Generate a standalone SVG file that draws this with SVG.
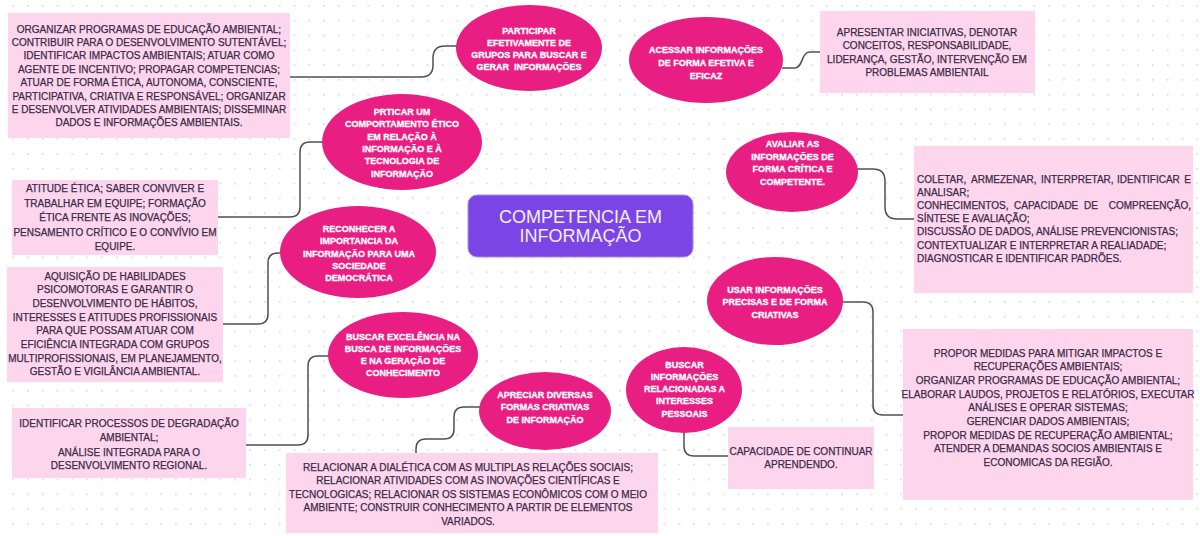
<svg xmlns="http://www.w3.org/2000/svg" width="1200" height="536" viewBox="0 0 1200 536">
<defs>
<pattern id="dots" x="12.3" y="5" width="14.8" height="14.8" patternUnits="userSpaceOnUse">
<circle cx="0.7" cy="0.7" r="1.1" fill="#d9d9d9"/>
</pattern>
<style>
.box{fill:#fdd6ee}
.ell{fill:#e91e83}
.bt{font-family:"Liberation Sans",Arial,sans-serif;font-size:10px;fill:#3b2b48;stroke:#3b2b48;stroke-width:0.25;text-anchor:middle}
.bl{font-family:"Liberation Sans",Arial,sans-serif;font-size:10px;fill:#3b2b48;stroke:#3b2b48;stroke-width:0.25}
.et{font-family:"Liberation Sans",Arial,sans-serif;font-size:9px;font-weight:bold;fill:#ffffff;stroke:#ffffff;stroke-width:0.3;text-anchor:middle;white-space:pre}
.con{fill:none;stroke:#505050;stroke-width:1.5}
.ct{font-family:"Liberation Sans",Arial,sans-serif;font-size:18px;fill:#f3eeff;text-anchor:middle}
</style>
</defs>
<rect width="1200" height="536" fill="#ffffff"/>
<rect width="1200" height="536" fill="url(#dots)"/>

<g id="connectors">
<path class="con" d="M290,77 H421 Q433,77 433,65 V58 Q433,46 445,46 H457"/>
<path class="con" d="M323,142 H310 Q300,142 300,152 V207 Q300,217 290,217 H218"/>
<path class="con" d="M281,253 H278 Q268,253 268,263 V314 Q268,324 258,324 H223"/>
<path class="con" d="M782,68 H795 C803,68 801,52 810,52 H820"/>
<path class="con" d="M857,169 H873 Q885,169 885,181 V207 Q885,219 897,219 H914"/>
<path class="con" d="M842,302 H863 Q873,302 873,312 V405 Q873,415 883,415 H903"/>
<path class="con" d="M684,432 V446 Q684,456 694,456 H728"/>
<path class="con" d="M480,407 H464 Q454,407 454,417 V429 Q454,439 444,439 H426 Q416,439 416,449 V453"/>
<path class="con" d="M329,356 H318 Q308,356 308,366 V435 Q308,445 298,445 H246"/>
</g>

<g id="center">
<rect x="468" y="195" width="225" height="62" rx="9" fill="#7b45e6" stroke="#a889f2" stroke-width="1"/>
<text class="ct" x="580.5" y="223">COMPETENCIA EM</text>
<text class="ct" x="580.5" y="242">INFORMAÇÃO</text>
</g>

<g id="n-participar">
<ellipse class="ell" cx="529" cy="48" rx="73" ry="43"/>
<text class="et" x="529" y="33.5">PARTICIPAR</text>
<text class="et" x="529" y="45.5">EFETIVAMENTE DE</text>
<text class="et" x="529" y="57.5">GRUPOS PARA BUSCAR E</text>
<text class="et" x="529" y="69.5">GERAR  INFORMAÇÕES</text>
</g>

<g id="b-organizar">
<rect class="box" x="8" y="13" width="282" height="125"/>
<text class="bt" x="149" y="32.5">ORGANIZAR PROGRAMAS DE EDUCAÇÃO AMBIENTAL;</text>
<text class="bt" x="149" y="45.9">CONTRIBUIR PARA O DESENVOLVIMENTO SUTENTÁVEL;</text>
<text class="bt" x="149" y="59.3">IDENTIFICAR IMPACTOS AMBIENTAIS; ATUAR COMO</text>
<text class="bt" x="149" y="72.7">AGENTE DE INCENTIVO; PROPAGAR COMPETENCIAS;</text>
<text class="bt" x="149" y="86.1">ATUAR DE FORMA ÉTICA, AUTONOMA, CONSCIENTE,</text>
<text class="bt" x="149" y="99.5">PARTICIPATIVA, CRIATIVA E RESPONSÁVEL; ORGANIZAR</text>
<text class="bt" x="149" y="112.9">E DESENVOLVER ATIVIDADES AMBIENTAIS; DISSEMINAR</text>
<text class="bt" x="149" y="126.3">DADOS E INFORMAÇÕES AMBIENTAIS.</text>
</g>

<g id="n-prticar">
<ellipse class="ell" cx="402" cy="142" rx="80" ry="48"/>
<text class="et" x="402" y="115">PRTICAR UM</text>
<text class="et" x="402" y="127.3">COMPORTAMENTO ÉTICO</text>
<text class="et" x="402" y="139.6">EM RELAÇÃO À</text>
<text class="et" x="402" y="151.9">INFORMAÇÃO E À</text>
<text class="et" x="402" y="164.2">TECNOLOGIA DE</text>
<text class="et" x="402" y="176.5">INFORMAÇÃO</text>
</g>

<g id="b-atitude">
<rect class="box" x="12" y="180" width="206" height="75"/>
<text class="bt" x="115" y="192">ATITUDE ÉTICA; SABER CONVIVER E</text>
<text class="bt" x="115" y="206.5">TRABALHAR EM EQUIPE; FORMAÇÃO</text>
<text class="bt" x="115" y="221">ÉTICA FRENTE AS INOVAÇÕES;</text>
<text class="bt" x="115" y="235.5">PENSAMENTO CRÍTICO E O CONVÍVIO EM</text>
<text class="bt" x="115" y="250">EQUIPE.</text>
</g>

<g id="n-reconhecer">
<ellipse class="ell" cx="358" cy="252" rx="78" ry="46"/>
<text class="et" x="359" y="231.5">RECONHECER A</text>
<text class="et" x="359" y="244">IMPORTANCIA DA</text>
<text class="et" x="359" y="256.5">INFORMAÇÃO PARA UMA</text>
<text class="et" x="359" y="268.5">SOCIEDADE</text>
<text class="et" x="359" y="280.5">DEMOCRÁTICA</text>
</g>

<g id="b-aquisicao">
<rect class="box" x="7" y="267" width="216" height="115"/>
<text class="bt" x="115" y="279.5">AQUISIÇÃO DE HABILIDADES</text>
<text class="bt" x="115" y="293.2">PSICOMOTORAS E GARANTIR O</text>
<text class="bt" x="115" y="306.9">DESENVOLVIMENTO DE HÁBITOS,</text>
<text class="bt" x="115" y="320.6">INTERESSES E ATITUDES PROFISSIONAIS</text>
<text class="bt" x="115" y="334.3">PARA QUE POSSAM ATUAR COM</text>
<text class="bt" x="115" y="348">EFICIÊNCIA INTEGRADA COM GRUPOS</text>
<text class="bt" x="115" y="361.7">MULTIPROFISSIONAIS, EM PLANEJAMENTO,</text>
<text class="bt" x="115" y="375.4">GESTÃO E VIGILÂNCIA AMBIENTAL.</text>
</g>

<g id="n-acessar">
<ellipse class="ell" cx="706" cy="60" rx="77" ry="43"/>
<text class="et" x="706" y="53">ACESSAR INFORMAÇÕES</text>
<text class="et" x="706" y="66">DE FORMA EFETIVA E</text>
<text class="et" x="706" y="79">EFICAZ</text>
</g>

<g id="b-apresentar">
<rect class="box" x="820" y="11" width="215" height="82"/>
<text class="bt" x="927" y="35.5">APRESENTAR INICIATIVAS, DENOTAR</text>
<text class="bt" x="927" y="49">CONCEITOS, RESPONSABILIDADE,</text>
<text class="bt" x="927" y="62.5">LIDERANÇA, GESTÃO, INTERVENÇÃO EM</text>
<text class="bt" x="927" y="76">PROBLEMAS AMBIENTAIL</text>
</g>

<g id="n-avaliar">
<ellipse class="ell" cx="792" cy="172" rx="66" ry="40"/>
<text class="et" x="792.5" y="147">AVALIAR AS</text>
<text class="et" x="792.5" y="159.5">INFORMAÇÕES DE</text>
<text class="et" x="792.5" y="172">FORMA CRÍTICA E</text>
<text class="et" x="792.5" y="184.5">COMPETENTE.</text>
</g>

<g id="b-coletar">
<rect class="box" x="914" y="146" width="279" height="147"/>
<text class="bl" y="182.5"><tspan x="917">COLETAR,</tspan><tspan x="971">ARMEZENAR,</tspan><tspan x="1041">INTERPRETAR,</tspan><tspan x="1117">IDENTIFICAR</tspan></text>
<text class="bl" x="1191" y="182.5" text-anchor="end">E</text>
<text class="bl" x="917" y="195.7">ANALISAR;</text>
<text class="bl" y="208.9"><tspan x="917">CONHECIMENTOS,</tspan><tspan x="1014">CAPACIDADE</tspan><tspan x="1084">DE</tspan></text>
<text class="bl" x="1191" y="208.9" text-anchor="end">COMPREENÇÃO,</text>
<text class="bl" x="917" y="222.1">SÍNTESE E AVALIAÇÃO;</text>
<text class="bl" x="917" y="235.3">DISCUSSÃO DE DADOS, ANÁLISE PREVENCIONISTAS;</text>
<text class="bl" x="917" y="248.5">CONTEXTUALIZAR E INTERPRETAR A REALIADADE;</text>
<text class="bl" x="917" y="261.7">DIAGNOSTICAR E IDENTIFICAR PADRÕES.</text>
</g>

<g id="n-usar">
<ellipse class="ell" cx="775" cy="301" rx="68" ry="44"/>
<text class="et" x="775" y="292.5">USAR INFORMAÇÕES</text>
<text class="et" x="775" y="305">PRECISAS E DE FORMA</text>
<text class="et" x="775" y="317.5">CRIATIVAS</text>
</g>

<g id="b-propor">
<rect class="box" x="903" y="329" width="290" height="171"/>
<text class="bt" x="1048" y="356.5">PROPOR MEDIDAS PARA MITIGAR IMPACTOS E</text>
<text class="bt" x="1048" y="370.2">RECUPERAÇÕES AMBIENTAIS;</text>
<text class="bt" x="1048" y="383.9">ORGANIZAR PROGRAMAS DE EDUCAÇÃO AMBIENTAL;</text>
<text class="bt" x="1048" y="397.6">ELABORAR LAUDOS, PROJETOS E RELATÓRIOS, EXECUTAR</text>
<text class="bt" x="1048" y="411.3">ANÁLISES E OPERAR SISTEMAS;</text>
<text class="bt" x="1048" y="425">GERENCIAR DADOS AMBIENTAIS;</text>
<text class="bt" x="1048" y="438.7">PROPOR MEDIDAS DE RECUPERAÇÃO AMBIENTAL;</text>
<text class="bt" x="1048" y="452.4">ATENDER A DEMANDAS SOCIOS AMBIENTAIS E</text>
<text class="bt" x="1048" y="466.1">ECONOMICAS DA REGIÃO.</text>
</g>

<g id="n-buscar-info">
<ellipse class="ell" cx="684" cy="390" rx="58" ry="43"/>
<text class="et" x="684.5" y="367.5">BUSCAR</text>
<text class="et" x="684.5" y="379.7">INFORMAÇÕES</text>
<text class="et" x="684.5" y="392">RELACIONADAS A</text>
<text class="et" x="684.5" y="404.2">INTERESSES</text>
<text class="et" x="684.5" y="416.5">PESSOAIS</text>
</g>

<g id="b-capacidade">
<rect class="box" x="728" y="427" width="146" height="62"/>
<text class="bt" x="801" y="454.5">CAPACIDADE DE CONTINUAR</text>
<text class="bt" x="801" y="468">APRENDENDO.</text>
</g>

<g id="n-apreciar">
<ellipse class="ell" cx="545" cy="411" rx="66" ry="39"/>
<text class="et" x="545" y="397.5">APRECIAR DIVERSAS</text>
<text class="et" x="545" y="410">FORMAS CRIATIVAS</text>
<text class="et" x="545" y="422.5">DE INFORMAÇÃO</text>
</g>

<g id="b-relacionar">
<rect class="box" x="286" y="453" width="372" height="80"/>
<text class="bt" x="468" y="470.5">RELACIONAR A DIALÉTICA COM AS MULTIPLAS RELAÇÕES SOCIAIS;</text>
<text class="bt" x="468" y="484">RELACIONAR ATIVIDADES COM AS INOVAÇÕES CIENTÍFICAS E</text>
<text class="bt" x="468" y="497.5">TECNOLOGICAS; RELACIONAR OS SISTEMAS ECONÔMICOS COM O MEIO</text>
<text class="bt" x="468" y="511">AMBIENTE; CONSTRUIR CONHECIMENTO A PARTIR DE ELEMENTOS</text>
<text class="bt" x="468" y="525">VARIADOS.</text>
</g>

<g id="n-buscar-excelencia">
<ellipse class="ell" cx="403" cy="355" rx="75" ry="43"/>
<text class="et" x="403" y="339.5">BUSCAR EXCELÊNCIA NA</text>
<text class="et" x="403" y="351.7">BUSCA DE INFORMAÇÕES</text>
<text class="et" x="403" y="364">E NA GERAÇÃO DE</text>
<text class="et" x="403" y="376.3">CONHECIMENTO</text>
</g>

<g id="b-identificar">
<rect class="box" x="12" y="408" width="234" height="70"/>
<text class="bt" x="129" y="426.5">IDENTIFICAR PROCESSOS DE DEGRADAÇÃO</text>
<text class="bt" x="129" y="441">AMBIENTAL;</text>
<text class="bt" x="129" y="455.5">ANÁLISE INTEGRADA PARA O</text>
<text class="bt" x="129" y="469">DESENVOLVIMENTO REGIONAL.</text>
</g>
</svg>
